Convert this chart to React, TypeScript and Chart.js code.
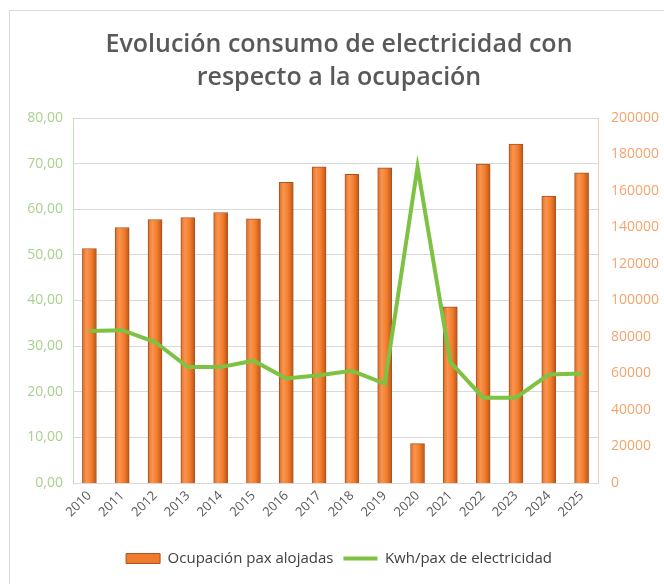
import React, { useEffect, useRef } from "react";
import { Chart, registerables } from "chart.js";

Chart.register(...registerables);

const years = ["2010","2011","2012","2013","2014","2015","2016","2017","2018","2019","2020","2021","2022","2023","2024","2025"];
const ocupacion = [128500,140000,144400,145500,148200,144700,164700,173300,169100,172700,21600,96500,174700,185700,157200,170000];
const kwhPax = [33.3,33.5,30.9,25.4,25.4,26.8,22.9,23.6,24.6,21.8,69.3,26.5,18.7,18.7,23.8,24.0];
const titleLines = ["Evolución consumo de electricidad con", "respecto a la ocupación"];
const barLabel = "Ocupación pax alojadas";
const lineLabel = "Kwh/pax de electricidad";

const BAR_W = 14;

export default function App() {
  const ref = useRef<HTMLCanvasElement | null>(null);
  useEffect(() => {
    document.body.style.margin = "0";
    const canvas = ref.current!;
    const barBg = (c: any) => {
      const chart = c.chart;
      const xs = chart.scales && chart.scales.x;
      if (!xs || c.type !== "data" || !chart.chartArea) return "#ED7D31";
      const x = xs.getPixelForValue(c.dataIndex);
      const g = chart.ctx.createLinearGradient(x - BAR_W / 2, 0, x + BAR_W / 2, 0);
      g.addColorStop(0, "#E26F22");
      g.addColorStop(0.3, "#F99452");
      g.addColorStop(0.65, "#F37C2A");
      g.addColorStop(1, "#B9561A");
      return g;
    };
    const chart = new Chart(canvas, {
      data: {
        labels: years,
        datasets: [
          {
            type: "line",
            label: lineLabel,
            data: kwhPax,
            yAxisID: "yL",
            borderColor: "#7DC242",
            backgroundColor: "#7DC242",
            borderWidth: 4,
            pointRadius: 0,
            pointStyle: "line",
            tension: 0,
            order: 0,
          } as any,
          {
            type: "bar",
            label: barLabel,
            data: ocupacion,
            yAxisID: "yR",
            backgroundColor: barBg,
            borderColor: "#A85420",
            borderWidth: 1,
            barThickness: BAR_W,
            pointStyle: "rect",
            order: 1,
          } as any,
        ],
      },
      options: {
        animation: false,
        responsive: false,
        maintainAspectRatio: false,
        layout: { padding: { left: 14, right: 0, top: 8, bottom: 8 } },
        plugins: {
          tooltip: { enabled: false },
          title: {
            display: true,
            text: titleLines,
            color: "#595959",
            font: { family: "'Open Sans', sans-serif", size: 25, weight: "600", lineHeight: 1.32 },
            padding: { top: 20.5, bottom: 23.5 },
          },
          legend: {
            position: "bottom",
            reverse: true,
            labels: {
              usePointStyle: true,
              pointStyleWidth: 34,
              boxWidth: 34,
              boxHeight: 10,
              color: "#404040",
              font: { family: "'Open Sans', sans-serif", size: 15 },
              padding: 10,
              generateLabels: (ch: any) => {
                const items = Chart.defaults.plugins.legend.labels.generateLabels(ch);
                items.forEach((it: any) => {
                  if (it.datasetIndex === 1) {
                    it.fillStyle = "#F07B2C";
                    it.strokeStyle = "#A85420";
                    it.lineWidth = 1;
                    it.pointStyle = "rect";
                  } else {
                    it.strokeStyle = "#7DC242";
                    it.lineWidth = 4;
                    it.pointStyle = "line";
                  }
                });
                return items;
              },
            },
          },
        },
        scales: {
          x: {
            offset: true,
            grid: { display: false, drawTicks: false },
            border: { display: true, color: "#D9D9D9" },
            ticks: {
              color: "#595959",
              font: { family: "'Open Sans', sans-serif", size: 13 },
              maxRotation: 45,
              minRotation: 45,
              padding: 5,
            },
            afterFit: (s: any) => { s.height = 58; },
          },
          yL: {
            type: "linear",
            position: "left",
            min: 0,
            max: 80,
            grid: { color: "#D9D9D9", drawTicks: false },
            border: { display: true, color: "#C5E0B4" },
            ticks: {
              stepSize: 10,
              color: "#A9D18E",
              font: { family: "'Open Sans', sans-serif", size: 14 },
              padding: 10,
              callback: (v: any) => Number(v).toFixed(2).replace(".", ","),
            },
            afterFit: (s: any) => { s.width = 59; },
          },
          yR: {
            type: "linear",
            position: "right",
            min: 0,
            max: 200000,
            grid: { display: false, drawTicks: false },
            border: { display: true, color: "#F8CBAD" },
            ticks: {
              stepSize: 20000,
              color: "#F4A46E",
              font: { family: "'Open Sans', sans-serif", size: 14 },
              padding: 13,
              callback: (v: any) => String(v),
            },
            afterFit: (s: any) => { s.width = 66; },
          },
        },
      } as any,
    });
    return () => chart.destroy();
  }, []);
  return (
    <div style={{ position: "absolute", left: 0, top: 0, width: 664, height: 584, overflow: "hidden", background: "#fff" }}>
      <canvas ref={ref} width={664} height={584} style={{ position: "absolute", left: 0, top: 0, width: 664, height: 584 }} />
      <div style={{ position: "absolute", left: 9, top: 10, width: 800, height: 800, border: "1px solid #D9D9D9", pointerEvents: "none" }} />
    </div>
  );
}
